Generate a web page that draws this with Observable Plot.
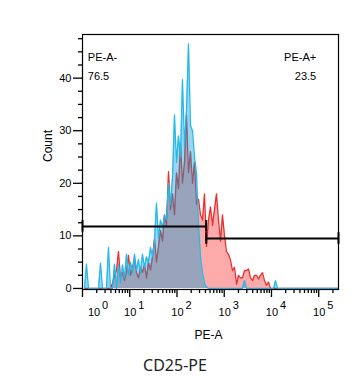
<!DOCTYPE html>
<html><head><meta charset="utf-8">
<script src="https://cdn.jsdelivr.net/npm/d3@7"></script>
<script src="https://cdn.jsdelivr.net/npm/@observablehq/plot@0.6"></script>
<style>
body{margin:0;background:#fff;}
#cap{width:350px;text-align:center;font:16px "Noto Sans",sans-serif;color:#222;margin-top:4px;line-height:22px}
</style>
</head><body><div id="chart"></div><div id="cap">CD25-PE</div>
<script>
// PE-A bin positions
const pe = [1.102,1.215,1.340,1.477,1.628,1.795,1.979,2.182,2.404,2.651,2.922,3.221,3.551,3.914,4.315,4.757,5.244,5.781,6.373,7.025,7.745,8.538,9.410,10.37,11.44,12.61,13.90,15.32,16.89,18.62,20.53,22.63,24.95,27.50,30.32,33.42,36.84,40.62,44.77,49.36,54.41,59.98,66.12,72.89,80.35,88.58,97.63,107.6,118.7,130.8,144.2,159.0,175.2,193.2,213.0,234.8,258.8,285.3,314.5,346.7,382.2,421.3,464.5,512.1,564.5,622.2,685.9,756.2,833.6,919.0,1013,1117,1231,1357,1496,1650,1818,2004,2210,2436,2685,2960,3263,3597,3965,4371,4819,5312,5856,6456,7117,7846,8648,9535,11040,12160,13420,262144];
// Control (blue) counts
const blue = [0,4.6,0,0,0,0,0,0,4.8,0,0,0,7.8,0,0,4.6,0,4.6,1.0,4.5,2.0,6.5,2.5,5.0,3.0,6.5,3.5,5.5,3.0,6.5,4.0,6.0,5.0,7.8,6.0,9.0,16.2,9.5,13.0,11.5,14.0,13.0,20.0,16.0,21.0,33.0,24.0,29.0,25.0,39.7,27.0,34.0,46.5,31.0,30.0,25.0,22.0,12.0,6.0,3.0,1.0,0.3,
  0,0,0,0,0,0,0,0,0,0,0,0,0,0,0,0,0,0,1.5,0,0,0,0,0,0,0,0,0,0,0,0,0,0,1.5,0,0];
// CD25-PE stained (red) counts
const red = [0,0,0,0,0,0,0,0,0,0,0,0,0,0,1.0,2.5,3.5,7.0,2.0,3.0,1.5,3.0,6.3,2.5,4.0,5.6,3.0,2.0,4.0,3.0,4.5,2.0,5.0,3.5,6.0,9.5,5.0,8.0,11.0,9.0,14.0,12.0,22.2,15.0,18.0,14.0,22.0,19.0,27.5,20.0,24.0,33.0,22.0,26.0,20.0,24.0,16.0,17.0,14.0,13.0,18.0,8.0,13.0,15.5,12.0,15.0,18.0,13.0,9.0,14.0,10.0,7.0,6.5,5.4,3.4,4.0,0.8,2.5,2.0,2.0,3.4,3.4,3.7,2.0,1.5,2.5,2.5,1.8,2.5,3.0,1.5,0.6,1.2,0,0,0,0,0];

// Gates
const gateNames = ["PE-A-", "PE-A+"];
const gatePct = ["76.5", "23.5"];
const gateX1 = [1, 415];
const gateX2 = [415, 262144];
const gateLevel = [11.8, 9.5];

// Axis ticks
const xDecades = [0,1,2,3,4,5];
const yTicks = [0,10,20,30,40];
const yMinorTicks = [2.5,5,7.5,12.5,15,17.5,22.5,25,27.5,32.5,35,37.5,42.5,45,47.5];

const rows = pe.map((x,i)=>({x, red: red[i], blue: blue[i]}));
const gates = gateNames.map((n,i)=>({name:n, pct:gatePct[i], x1:gateX1[i], x2:gateX2[i], y:gateLevel[i]}));
const gateEnds = gates.flatMap(g=>[{x:g.x1,y:g.y},{x:g.x2,y:g.y}]);
const xMajor = xDecades.map(d=>10**d);
const xMinor = xDecades.flatMap(d=>[2,3,4,5,6,7,8,9].map(k=>k*10**d)).filter(v=>v<262144);

const font = "'Liberation Sans', Arial, sans-serif";
const chart = Plot.plot({
  width:354, height:350, marginLeft:82, marginRight:16, marginTop:34, marginBottom:61,
  style:{fontFamily:font, fontSize:"11px", background:"#fff", color:"#000"},
  x:{type:"log", domain:[1,262144]},
  y:{domain:[-0.2,48.3]},
  marks:[
    Plot.areaY(rows,{x:"x", y:"red", fill:"rgb(252,170,170)"}),
    Plot.lineY(rows,{x:"x", y:"red", stroke:"rgb(232,50,50)", strokeWidth:1.3}),
    Plot.areaY(rows,{x:"x", y:"blue", fill:"rgb(0,155,215)", fillOpacity:0.4}),
    Plot.lineY(rows,{x:"x", y:"blue", stroke:"rgb(35,185,235)", strokeWidth:1.3}),
    Plot.ruleY(gates,{y:"y", x1:"x1", x2:"x2", stroke:"#000", strokeWidth:2}),
    Plot.ruleX(gateEnds,{x:"x", y1:d=>d.y-1.1, y2:d=>d.y+1.1, stroke:"#000", strokeWidth:2}),
    Plot.frame({stroke:"#000", strokeWidth:1.2}),
    Plot.axisX({ticks:xMajor, tickSize:8, tickFormat:()=>"", label:null, strokeWidth:1.3}),
    Plot.axisX({ticks:xMinor, tickSize:4, tickFormat:()=>"", label:null, strokeWidth:1.3}),
    Plot.axisY({ticks:yTicks, tickSize:9, tickPadding:2, label:null, strokeWidth:1.3, fontSize:11}),
    Plot.axisY({ticks:yMinorTicks, tickSize:4, tickFormat:()=>"", label:null, strokeWidth:1.3}),
    // x tick labels 10^n
    Plot.text(xDecades.filter(d=>d>0),{x:d=>10**d, text:()=>"10", frameAnchor:"bottom", dy:26, dx:0.5, fontSize:11}),
    Plot.text(xDecades.filter(d=>d>0),{x:d=>10**d, text:d=>String(d), frameAnchor:"bottom", dy:19.5, dx:8.5, textAnchor:"start", fontSize:11}),
    Plot.text(xDecades.filter(d=>d===0),{x:d=>10**d, text:()=>"10", frameAnchor:"bottom", dy:26, dx:11.5, fontSize:11}),
    Plot.text(xDecades.filter(d=>d===0),{x:d=>10**d, text:d=>String(d), frameAnchor:"bottom", dy:19.5, dx:19.5, textAnchor:"start", fontSize:11}),
    Plot.text(["PE-A"],{text:d=>d, frameAnchor:"bottom", dy:49, dx:-2, fontSize:12}),
    Plot.text(["Count"],{text:d=>d, frameAnchor:"left", dx:-34, rotate:-90, fontSize:12}),
    Plot.text(gates.slice(0,1),{text:"name", frameAnchor:"top-left", dx:5.3, dy:19, textAnchor:"start", fontSize:11}),
    Plot.text(gates.slice(0,1),{text:"pct", frameAnchor:"top-left", dx:5.3, dy:37.7, textAnchor:"start", fontSize:11}),
    Plot.text(gates.slice(1),{text:"name", frameAnchor:"top-right", dx:-22.3, dy:19, textAnchor:"end", fontSize:11}),
    Plot.text(gates.slice(1),{text:"pct", frameAnchor:"top-right", dx:-22.3, dy:37.7, textAnchor:"end", fontSize:11})
  ]
});
document.getElementById("chart").appendChild(chart);
</script>
</body></html>
